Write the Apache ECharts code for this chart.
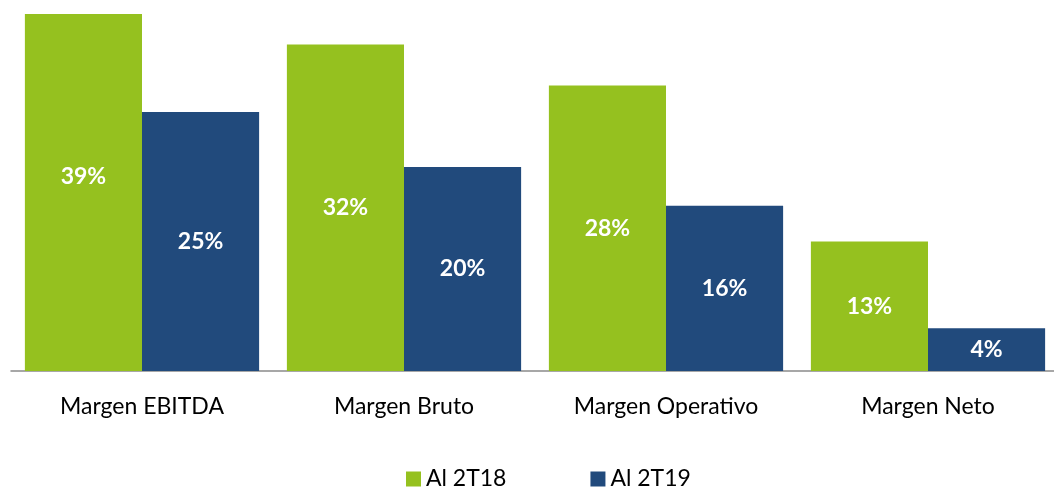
<!DOCTYPE html>
<html>
<head>
<meta charset="utf-8">
<script src="https://cdn.jsdelivr.net/npm/echarts@6/dist/echarts.min.js"></script>
<style>
  html, body { margin: 0; padding: 0; background: #fff; }
  #chart { width: 1054px; height: 488px; }
</style>
</head>
<body>
<div id="chart"></div>
<script>
// categorias y valores (%)
const categories = ["Margen EBITDA", "Margen Bruto", "Margen Operativo", "Margen Neto"];
const seriesNames = ["Al 2T18", "Al 2T19"];
const values2T18 = [39, 32, 28, 12.7];
const values2T19 = [25.4, 20, 16.2, 4.2];

const FONT = "Lato, 'Open Sans', sans-serif";
const chart = echarts.init(document.getElementById("chart"));

const labelStyle = {
  show: true,
  position: "inside",
  color: "#fff",
  fontFamily: FONT,
  fontWeight: "bold",
  fontSize: 23,
  formatter: (p) => Math.round(p.value) + "%",
};

chart.setOption({
  animation: false,
  color: ["#95c11f", "#214a7c"],
  grid: { left: 11, width: 1048, top: 14, bottom: 117, outerBoundsMode: "none" },
  legend: {
    data: seriesNames,
    left: 406,
    top: 467,
    padding: 0,
    itemWidth: 15,
    itemHeight: 15,
    itemGap: 84,
    icon: "rect",
    textStyle: { fontFamily: FONT, fontSize: 23, color: "#000", lineHeight: 24 },
  },
  xAxis: {
    type: "category",
    data: categories,
    axisTick: { show: false },
    axisLine: { lineStyle: { color: "#8a8a8a", width: 1.5 } },
    axisLabel: { color: "#000", fontFamily: FONT, fontSize: 23, margin: 24 },
  },
  yAxis: {
    type: "value",
    min: 0,
    max: 35,
    show: false,
  },
  series: [
    {
      name: seriesNames[0],
      type: "bar",
      barGap: "0%",
      barCategoryGap: "10.6%",
      data: values2T18.map((v, i) =>
        i === 0 ? { value: v, label: { offset: [0, -16] } } : v
      ),
      label: labelStyle,
    },
    {
      name: seriesNames[1],
      type: "bar",
      data: values2T19,
      label: labelStyle,
    },
  ],
});
</script>
</body>
</html>
